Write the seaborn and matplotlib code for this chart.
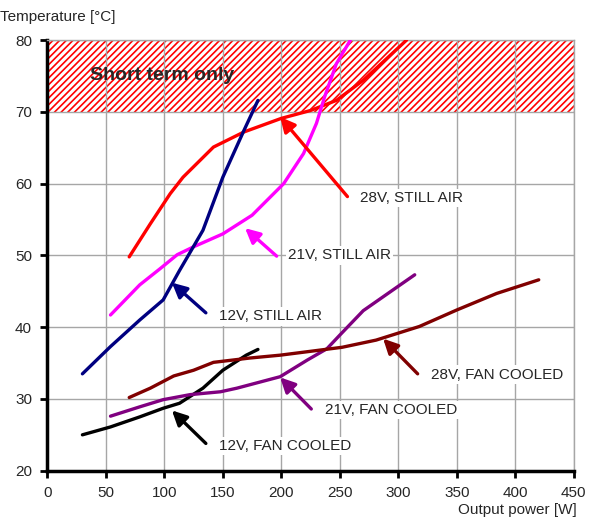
import numpy as np
import pandas as pd
import matplotlib
matplotlib.use("Agg")
import matplotlib.pyplot as plt
import seaborn as sns

# ---- data ----
v28_still_x = [70, 88, 105, 116, 142, 168, 200, 225, 247, 270, 307]
v28_still_y = [49.8, 54.4, 58.6, 60.9, 65.1, 67.2, 69.1, 70.2, 71.6, 74.4, 80.0]

v12_still_x = [30, 54, 79, 99, 113, 133, 150, 168, 180]
v12_still_y = [33.5, 37.3, 41.0, 43.8, 47.9, 53.5, 60.9, 67.4, 71.6]

v21_still_x = [54, 79, 96, 111, 125, 150, 175, 202, 219, 230, 237, 247, 259]
v21_still_y = [41.7, 45.9, 48.1, 50.1, 51.2, 53.0, 55.6, 60.0, 64.2, 68.4, 72.1, 76.7, 80.0]

v12_fan_x = [30, 54, 79, 99, 113, 133, 150, 170, 180]
v12_fan_y = [25.0, 26.1, 27.5, 28.7, 29.4, 31.5, 34.0, 36.1, 36.9]

v21_fan_x = [54, 79, 99, 122, 148, 162, 199, 222, 239, 250, 270, 299, 314]
v21_fan_y = [27.6, 28.9, 29.9, 30.6, 31.0, 31.5, 33.1, 35.4, 37.0, 38.9, 42.3, 45.6, 47.3]

v28_fan_x = [70, 88, 108, 125, 142, 173, 199, 252, 281, 318, 350, 384, 420]
v28_fan_y = [30.2, 31.5, 33.2, 34.0, 35.1, 35.7, 36.1, 37.2, 38.2, 40.1, 42.4, 44.7, 46.6]

series_names = ["28V, STILL AIR", "21V, STILL AIR", "12V, STILL AIR",
                "12V, FAN COOLED", "21V, FAN COOLED", "28V, FAN COOLED"]
series_colors = ["#ff0000", "#ff00ff", "#000080", "#000000", "#800080", "#800000"]
series_x = [v28_still_x, v21_still_x, v12_still_x, v12_fan_x, v21_fan_x, v28_fan_x]
series_y = [v28_still_y, v21_still_y, v12_still_y, v12_fan_y, v21_fan_y, v28_fan_y]

# annotation: arrow head, arrow tail, text position
arrow_head = [(199, 69.3), (169, 53.8), (106.5, 46.2), (106.5, 28.4), (199, 33.0), (287, 38.4)]
arrow_tail = [(256.5, 58.2), (196, 49.9), (135.5, 42.0), (135.5, 23.8), (225.6, 28.6), (316.5, 33.5)]
label_pos = [(267, 58.0), (206, 50.0), (147, 41.5), (147, 23.4), (237.5, 28.5), (328, 33.4)]

x_ticks = [0, 50, 100, 150, 200, 250, 300, 350, 400, 450]
y_ticks = [20, 30, 40, 50, 60, 70, 80]
short_term_range = (70, 80)

# ---- plot ----
sns.set_style("white")
plt.rcParams['font.family'] = ['Liberation Sans', 'DejaVu Sans']
plt.rcParams['hatch.linewidth'] = 1.2
plt.rcParams['hatch.color'] = '#ff0000'

fig = plt.figure(figsize=(5.99, 5.20), dpi=100)
ax = fig.add_axes([0.079, 0.0948, 0.879, 0.828])

ax.axhspan(short_term_range[0], short_term_range[1], facecolor='white',
           edgecolor='#ff0000', hatch='/////', linewidth=0, zorder=0.5)

for name, c, xs, ys in zip(series_names, series_colors, series_x, series_y):
    df = pd.DataFrame({"x": xs, "y": ys})
    sns.lineplot(data=df, x="x", y="y", color=c, linewidth=2.4, sort=False,
                 ax=ax, zorder=3)

for name, c, h, t, lp in zip(series_names, series_colors, arrow_head, arrow_tail, label_pos):
    ax.annotate("", xy=h, xytext=t,
                arrowprops=dict(arrowstyle='-|>', color=c, lw=2.4,
                                mutation_scale=22, shrinkA=0, shrinkB=0),
                zorder=4)
    ax.text(lp[0], lp[1], name, fontsize=11, ha='left', va='center',
            bbox=dict(facecolor='white', edgecolor='none', pad=1.5), zorder=2)

ax.text(36.5, 75.1, "Short term only", fontsize=14, fontweight='bold',
        ha='left', va='center', zorder=2)

ax.set_xlim(0, 450)
ax.set_ylim(20, 80)
ax.set_xticks(x_ticks)
ax.set_yticks(y_ticks)
ax.grid(True, color='#a6a6a6', linewidth=1.0, zorder=1)
ax.set_axisbelow(True)
ax.tick_params(axis='both', labelsize=11, direction='out', length=5, width=2,
               color='black', left=True, bottom=True, pad=6)
for s in ['left', 'bottom']:
    ax.spines[s].set_color('black')
    ax.spines[s].set_linewidth(2.5)
for s in ['top', 'right']:
    ax.spines[s].set_color('#a6a6a6')
    ax.spines[s].set_linewidth(1.0)
ax.set_xlabel("")
ax.set_ylabel("")

fig.text(0.0, 1 - 17 / 520, "Temperature [°C]", fontsize=11, ha='left', va='center')
fig.text(577 / 599, 1 - 510 / 520, "Output power [W]", fontsize=11, ha='right', va='center')

fig.savefig("out.png", dpi=100)
